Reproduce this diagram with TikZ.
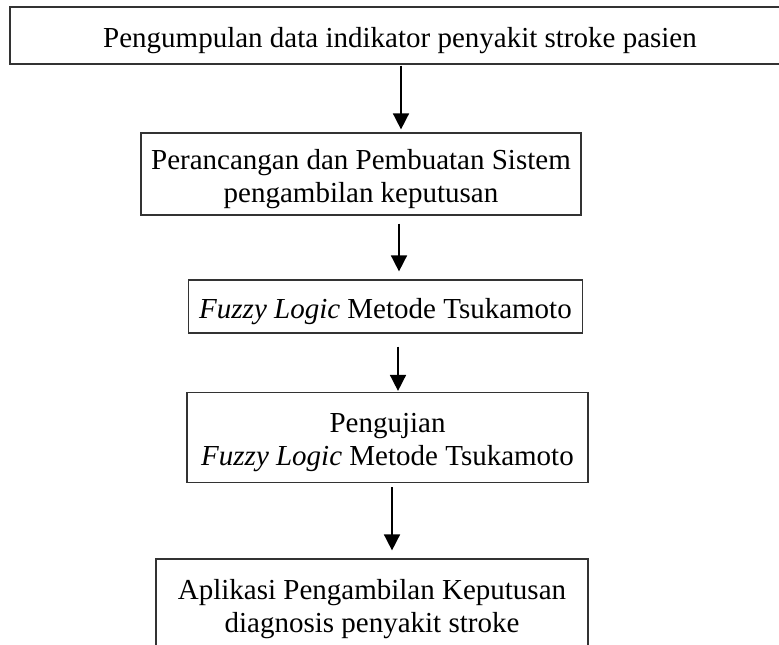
\documentclass[tikz,border=0pt]{standalone}
\usepackage{fontspec}
\setmainfont{Liberation Serif}
\usetikzlibrary{arrows.meta}
\newcommand{\topstrut}{\rule{0pt}{30pt}}
\begin{document}
\begin{tikzpicture}[x=1pt,y=-1pt,
 box/.style={draw=black!80, line width=1.2pt, align=center, inner sep=0pt,
   font=\fontsize{29}{33}\selectfont},
 arr/.style={line width=1.6pt, -{Triangle[width=16pt,length=16pt]}}]
\useasboundingbox (0,0) rectangle (779,645);
\node[box, minimum width=780pt, minimum height=57pt] (b1) at (400,35.5) {\topstrut Pengumpulan data indikator penyakit stroke pasien};
\node[box, minimum width=440pt, minimum height=82pt] (b2) at (361,174) {\topstrut Perancangan dan Pembuatan Sistem\\pengambilan keputusan};
\node[box, minimum width=394pt, minimum height=53pt] (b3) at (385.5,306.5) {\topstrut\textit{Fuzzy Logic} Metode Tsukamoto};
\node[box, minimum width=401pt, minimum height=90pt] (b4) at (387.5,437.5) {\topstrut Pengujian\\\textit{Fuzzy Logic} Metode Tsukamoto};
\node[box, minimum width=432pt, minimum height=90pt] (b5) at (372,604) {\topstrut Aplikasi Pengambilan Keputusan\\diagnosis penyakit stroke};
\coordinate (x1) at (401,0);
\coordinate (x2) at (399,0);
\coordinate (x3) at (398,0);
\coordinate (x4) at (392,0);
\draw[arr, shorten <=1pt, shorten >=3pt] (b1.south -| x1) -- (b2.north -| x1);
\draw[arr, shorten <=8pt, shorten >=8pt] (b2.south -| x2) -- (b3.north -| x2);
\draw[arr, shorten <=13pt, shorten >=1pt] (b3.south -| x3) -- (b4.north -| x3);
\draw[arr, shorten <=4pt, shorten >=8pt] (b4.south -| x4) -- (b5.north -| x4);
\end{tikzpicture}
\end{document}
